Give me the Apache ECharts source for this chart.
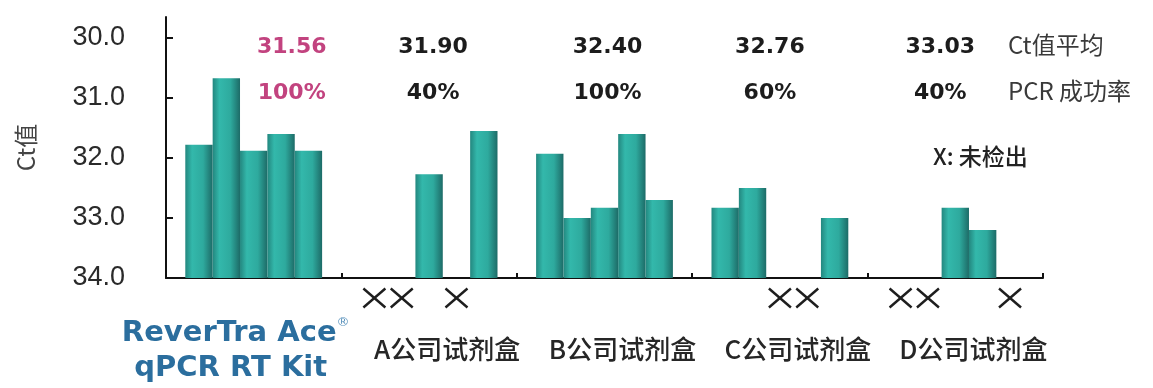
<!DOCTYPE html>
<html>
<head>
<meta charset="utf-8">
<script src="https://cdn.jsdelivr.net/npm/echarts@6/dist/echarts.min.js"></script>
<style>
  html, body { margin: 0; padding: 0; background: #ffffff; }
  #chart { width: 1153px; height: 388px; }
</style>
</head>
<body>
<div id="chart"></div>
<script>
// ---------- data ----------
const categories = ['ReverTra Ace® qPCR RT Kit', 'A公司试剂盒', 'B公司试剂盒', 'C公司试剂盒', 'D公司试剂盒'];
// Ct values of the 5 replicates per kit (null = not detected, drawn as ×)
const revertraCt = [31.78, 30.67, 31.88, 31.60, 31.88];
const kitACt     = [null, null, 32.27, null, 31.55];
const kitBCt     = [31.93, 33.00, 32.83, 31.60, 32.70];
const kitCCt     = [32.83, 32.50, null, null, 33.00];
const kitDCt     = [null, null, 32.83, 33.20, null];
const ctMeans    = [31.56, 31.90, 32.40, 32.76, 33.03];
const successRates = ['100%', '40%', '100%', '60%', '40%'];
const yTickLabels = [34.0, 33.0, 32.0, 31.0, 30.0];
const yAxisName = 'Ct值';
const meanRowName = 'Ct值平均';
const rateRowName = 'PCR 成功率';
const noteText = 'X: 未检出';

// ---------- build ----------
const BASE = 34;                 // bars grow up from Ct 34.0
const groups = [revertraCt, kitACt, kitBCt, kitCCt, kitDCt];
const N_REP = 5;
const CAT_GAP = 0.22;
const barColor = new echarts.graphic.LinearGradient(0, 0, 1, 0, [
  { offset: 0, color: '#23877f' },
  { offset: 0.25, color: '#33b8ab' },
  { offset: 0.65, color: '#2eaa9e' },
  { offset: 1, color: '#1d6b67' }
]);

const barSeries = [];
for (let r = 0; r < N_REP; r++) {
  barSeries.push({
    type: 'bar',
    name: 'rep' + (r + 1),
    data: groups.map(g => g[r] == null ? null : +(BASE - g[r]).toFixed(3)),
    barGap: '0%',
    barCategoryGap: (CAT_GAP * 100) + '%',
    itemStyle: { color: barColor },
    silent: true
  });
}

const missing = [];
groups.forEach((g, ci) => g.forEach((v, r) => { if (v == null) missing.push([ci, r]); }));

const labelOffsets = [38, 4, 3, -10, -15];   // horizontal nudges of the top annotations (px)

const numFont = { fontFamily: 'DejaVu Sans', fontWeight: 'bold', fontSize: 22 };

function annotationSeries(texts, level) {
  return {
    type: 'scatter',
    symbolSize: 1,
    itemStyle: { color: 'rgba(0,0,0,0)', opacity: 1 },
    silent: true,
    data: texts.map((t, i) => ({
      value: [i, BASE - level],
      label: {
        show: true, position: 'inside', offset: [labelOffsets[i], 0],
        formatter: () => t,
        color: i === 0 ? '#c2437f' : '#1c1c1c', ...numFont
      }
    }))
  };
}
const meanSeries = annotationSeries(ctMeans.map(m => m.toFixed(2)), 30.15);
const rateSeries = annotationSeries(successRates, 30.92);

const crossSeries = {
  type: 'custom',
  clip: false,
  silent: true,
  data: missing,
  encode: { x: 0, y: 1 },
  renderItem: function (params, api) {
    const c = api.coord([api.value(0), 0]);
    const band = api.size([1, 0])[0];
    const bw = band * (1 - CAT_GAP) / N_REP;
    const cx = c[0] + (api.value(1) - (N_REP - 1) / 2) * bw;
    const cy = c[1] + 20;
    const hw = 11, hh = 9.5;
    const st = { stroke: '#1e1e1e', lineWidth: 2.4 };
    return {
      type: 'group',
      children: [
        { type: 'line', shape: { x1: cx - hw, y1: cy - hh, x2: cx + hw, y2: cy + hh }, style: st },
        { type: 'line', shape: { x1: cx - hw, y1: cy + hh, x2: cx + hw, y2: cy - hh }, style: st }
      ]
    };
  }
};

const cjk = 'Noto Sans CJK SC, DejaVu Sans';
const chart = echarts.init(document.getElementById('chart'), null, { renderer: 'canvas' });
chart.setOption({
  animation: false,
  backgroundColor: '#ffffff',
  grid: { left: 166, right: 110, top: 17, bottom: 110, containLabel: false },
  xAxis: {
    type: 'category',
    data: categories,
    axisLine: { show: true, lineStyle: { color: '#111', width: 2 } },
    axisTick: { show: true, inside: true, length: 5, lineStyle: { color: '#111', width: 2 } },
    axisLabel: {
      interval: 0,
      margin: 38,
      formatter: function (val, idx) {
        if (idx === 0) {
          const parts = val.split('® ');
          return '{k|' + parts[0] + '}{sup|®}\n{k2|' + parts[1] + '}';
        }
        return '{c|' + val + '}';
      },
      rich: {
        k: { fontFamily: 'DejaVu Sans', fontWeight: 'bold', fontSize: 29, color: '#2b6e9e', lineHeight: 35 },
        sup: { fontFamily: 'DejaVu Sans', fontSize: 13, color: '#5b93bd', lineHeight: 35, verticalAlign: 'top', padding: [0, 36, 0, 0] },
        k2: { fontFamily: 'DejaVu Sans', fontWeight: 'bold', fontSize: 29, color: '#2b6e9e', lineHeight: 35, padding: [0, 46, 0, 0] },
        c: { fontFamily: cjk, fontWeight: 500, fontSize: 26, color: '#262626', lineHeight: 66, padding: [0, 0, 0, 36] }
      }
    },
    splitLine: { show: false }
  },
  yAxis: {
    type: 'value',
    min: 0,
    max: 4.35,
    name: yAxisName,
    nameLocation: 'middle',
    nameRotate: 90,
    nameGap: 128,
    nameTextStyle: { fontFamily: cjk, fontSize: 24, color: '#444' },
    axisLine: { show: true, lineStyle: { color: '#111', width: 2 } },
    axisTick: { show: true, inside: true, length: 7, lineStyle: { color: '#111', width: 2 },
      customValues: yTickLabels.map(t => BASE - t) },
    axisLabel: {
      customValues: yTickLabels.map(t => BASE - t),
      formatter: v => (BASE - v).toFixed(1),
      margin: 41,
      fontFamily: 'Liberation Sans', fontSize: 27, color: '#2a2a2a',
      padding: [12, 0, 0, 0]
    },
    splitLine: { show: false }
  },
  graphic: [
    { type: 'text', left: 1008, top: 33, style: { text: meanRowName, fontFamily: cjk, fontSize: 24, fill: '#3a3a3a' } },
    { type: 'text', left: 1008, top: 79, style: { text: rateRowName, fontFamily: cjk, fontSize: 24, fill: '#3a3a3a' } },
    { type: 'text', left: 933, top: 145, style: { text: noteText, fontFamily: cjk, fontWeight: 500, fontSize: 23, fill: '#222' } }
  ],
  series: [...barSeries, meanSeries, rateSeries, crossSeries]
});
</script>
</body>
</html>
